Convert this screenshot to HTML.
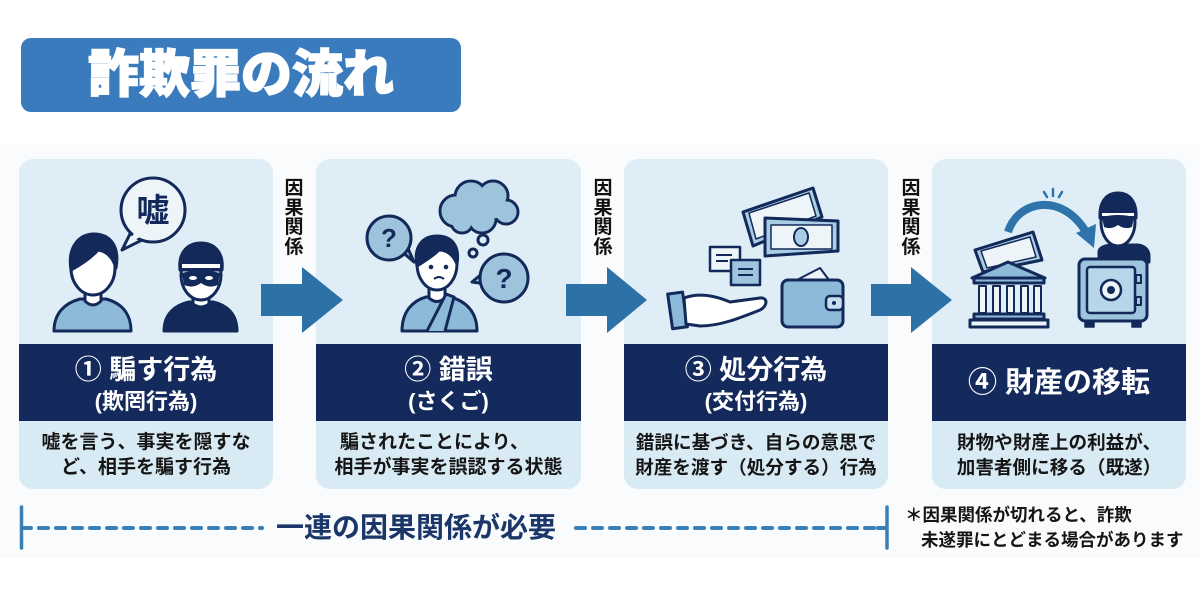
<!DOCTYPE html>
<html lang="ja">
<head>
<meta charset="utf-8">
<style>
  html, body { margin:0; padding:0; }
  body { width:1200px; height:600px; position:relative; overflow:hidden; background:#ffffff;
         font-family:"Liberation Sans","Noto Sans CJK JP",sans-serif; font-weight:700; }
  .abs { position:absolute; }
  .band { left:0; top:145px; width:1200px; height:413px; background:#fafbfc; }
  .title { left:21px; top:38px; width:440px; height:74px; background:#3a7bbd; border-radius:10px;
           color:#fff; font-size:51px; font-weight:900; line-height:74px; text-align:center;
           -webkit-text-stroke:1.5px #fff; letter-spacing:0px; }
  .card { top:159px; height:330px; border-radius:14px; overflow:hidden; background:#dfeef6; }
  .card .dark { position:absolute; left:0; top:185px; width:100%; height:77px; background:#142a5c; }
  .card .desc { position:absolute; left:0; top:262px; width:100%; height:68px; background:#d8eaf4; }
  .t { position:absolute; text-align:center; white-space:nowrap; }
  .h1 { color:#fff; font-size:27px; line-height:32px; height:32px; }
  .h2 { color:#fff; font-size:22px; line-height:28px; height:28px; }
  .d { color:#151515; font-size:19px; line-height:25px; height:25px; }
  .vt { position:absolute; width:22px; font-size:19px; line-height:19.6px; color:#111; text-align:center; }
</style>
</head>
<body>
<div class="abs band"></div>
<div class="abs title">詐欺罪の流れ</div>

<div class="abs card" style="left:19px;width:254px;"><div class="dark"></div><div class="desc"></div></div>
<div class="abs card" style="left:316px;width:265px;"><div class="dark"></div><div class="desc"></div></div>
<div class="abs card" style="left:624px;width:264px;"><div class="dark"></div><div class="desc"></div></div>
<div class="abs card" style="left:932px;width:254px;"><div class="dark"></div><div class="desc"></div></div>

<svg class="abs" style="left:0;top:0" width="1200" height="600" viewBox="0 0 1200 600">
  <!-- arrows -->
  <g fill="#2c72a6">
    <polygon points="261,284 302,284 302,267 343,300 302,333 302,316 261,316"/>
    <polygon points="566,284 607,284 607,267 647,300 607,333 607,316 566,316"/>
    <polygon points="871,284 911,284 911,267 952,300 911,333 911,316 871,316"/>
  </g>

  <!-- ===== Card 1 ===== -->
  <g stroke="#13295a" stroke-width="3" stroke-linejoin="round">
    <!-- speech bubble -->
    <polygon points="133,228 122,250 146,238" fill="#eef5f9"/>
    <circle cx="153" cy="210" r="32" fill="#eef5f9"/>
    <polygon points="135,232 127,244 142,236" fill="#eef5f9" stroke="none"/>
    <!-- person 1 -->
    <path d="M54,331 C54,313 65,303 80,299 L106,299 C121,303 131,313 131,331 Z" fill="#8dbad8"/>
    <path d="M85,287 L85,301 Q93,309 101,301 L101,287" fill="#fff"/>
    <ellipse cx="93" cy="268" rx="22" ry="27" fill="#fff"/>
    <path d="M71,270 C67,246 80,234 94,234 C110,234 120,246 116,268 C113,257 106,251 98,250 C91,258 82,264 71,270 Z" fill="#13295a"/>
    <!-- thief -->
    <path d="M164,331 C164,314 175,305 189,302 L213,302 C227,305 237,314 237,331 Z" fill="#13295a"/>
    <path d="M193,292 L193,304 Q201,310 209,304 L209,292" fill="#fff"/>
    <ellipse cx="201" cy="275" rx="20" ry="25" fill="#fff"/>
    <path d="M180,270 C178,252 188,243 201,243 C214,243 224,252 222,270 Z" fill="#13295a"/>
  </g>
  <rect x="182" y="264" width="38" height="4" fill="#fff"/>
  <path d="M182,273 Q201,268 220,273 L218,285 Q209,289 201,283 Q193,289 184,285 Z" fill="#13295a"/>
  <ellipse cx="193" cy="278" rx="4" ry="2" fill="#fff"/>
  <ellipse cx="209" cy="278" rx="4" ry="2" fill="#fff"/>
  <text x="153" y="222" font-size="33" font-weight="700" fill="#13295a" text-anchor="middle" font-family="Liberation Sans, Noto Sans CJK JP, sans-serif">嘘</text>

  <!-- ===== Card 2 ===== -->
  <g stroke="#13295a" stroke-width="3" stroke-linejoin="round">
    <!-- cloud outline -->
    <g fill="#9dc4dc">
      <circle cx="456" cy="211" r="16"/><circle cx="471" cy="197" r="16"/><circle cx="493" cy="196" r="15"/>
      <circle cx="506" cy="212" r="12"/><circle cx="482" cy="219" r="14"/><circle cx="462" cy="222" r="11"/>
    </g>
  </g>
  <g fill="#9dc4dc">
    <circle cx="456" cy="211" r="14.5"/><circle cx="471" cy="197" r="14.5"/><circle cx="493" cy="196" r="13.5"/>
    <circle cx="506" cy="212" r="10.5"/><circle cx="482" cy="219" r="12.5"/><circle cx="462" cy="222" r="9.5"/>
    <rect x="458" y="200" width="42" height="18"/>
  </g>
  <g stroke="#13295a" stroke-width="3" stroke-linejoin="round">
    <circle cx="483" cy="240" r="5" fill="#dfeef6"/>
    <circle cx="473" cy="253" r="4" fill="#dfeef6"/>
    <!-- question bubbles -->
    <polygon points="400,250 414,262 406,244" fill="#9dc4dc"/>
    <circle cx="389" cy="238" r="22" fill="#9dc4dc"/>
    <polygon points="484,272 472,282 486,284" fill="#9dc4dc"/>
    <circle cx="504" cy="278" r="24" fill="#9dc4dc"/>
    <!-- person -->
    <path d="M402,331 C402,312 412,301 426,297 L450,297 C466,301 477,312 477,331 Z" fill="#8dbad8"/>
    <path d="M429,285 L429,298 Q437,305 445,298 L445,285" fill="#fff"/>
    <ellipse cx="437" cy="264" rx="20" ry="26" fill="#fff"/>
    <path d="M417,266 C413,245 424,236 437,236 C452,236 460,246 457,264 C453,254 446,250 439,250 C433,256 425,261 417,266 Z" fill="#13295a"/>
    <path d="M427,331 L446,294 L454,297 L445,331" fill="#8dbad8"/>
  </g>
  <circle cx="431" cy="267" r="2.3" fill="#13295a"/>
  <circle cx="446" cy="267" r="2.3" fill="#13295a"/>
  <path d="M434,279 Q439,275 444,279" stroke="#13295a" stroke-width="2" fill="none"/>
  <text x="389" y="247" font-size="26" fill="#13295a" text-anchor="middle" font-family="Liberation Sans, sans-serif" font-weight="700">?</text>
  <text x="504" y="288" font-size="28" fill="#13295a" text-anchor="middle" font-family="Liberation Sans, sans-serif" font-weight="700">?</text>

  <!-- ===== Card 3 ===== -->
  <g stroke="#13295a" stroke-width="3" stroke-linejoin="round">
    <!-- back bill -->
    <polygon points="743,212 813,188 822,217 753,246" fill="#a9cde3"/>
    <polygon points="749,213 809,193 816,216 756,239" fill="#eef5f9" stroke-width="1.5"/>
    <!-- front bill -->
    <polygon points="765,218 838,221 838,251 765,256" fill="#a9cde3"/>
    <rect x="771" y="225" width="61" height="24" fill="#eef5f9" stroke-width="1.5"/>
    <ellipse cx="801" cy="237" rx="7" ry="9" fill="#a9cde3" stroke-width="2"/>
    <!-- docs -->
    <rect x="710" y="247" width="30" height="24" fill="#eef5f9" stroke-width="2.5"/>
    <rect x="731" y="260" width="29" height="25" fill="#9dc4dc" stroke-width="2.5"/>
    <!-- wallet -->
    <polygon points="793,282 820,268 832,284" fill="#eef5f9" stroke-width="2"/>
    <rect x="782" y="280" width="61" height="47" rx="6" fill="#8dbad8"/>
    <rect x="826" y="296" width="17" height="14" rx="4" fill="#c5dfee" stroke-width="2.5"/>
    <!-- hand -->
    <rect x="670" y="293" width="15" height="35" fill="#8dbad8" transform="rotate(-8 677 310)"/>
    <path d="M684,298 C700,292 716,296 730,302 L760,298 C768,297 768,306 760,310 C740,318 720,326 700,326 L686,324 Z" fill="#fff"/>
  </g>
  <g stroke="#13295a" stroke-width="2">
    <line x1="716" y1="255" x2="732" y2="255"/><line x1="716" y1="261" x2="728" y2="261"/>
    <line x1="738" y1="269" x2="753" y2="269"/><line x1="738" y1="275" x2="753" y2="275"/>
  </g>
  <circle cx="834" cy="303" r="2" fill="#13295a"/>

  <!-- ===== Card 4 ===== -->
  <!-- curved arrow -->
  <path d="M1008,232 C1018,200 1062,192 1086,232" stroke="#2e74aa" stroke-width="8" fill="none"/>
  <polygon points="1076,233 1096,224 1094,248" fill="#2e74aa"/>
  <g stroke="#2e74aa" stroke-width="2.5" stroke-linecap="round">
    <line x1="1044" y1="192" x2="1047" y2="197"/><line x1="1053" y1="189" x2="1053" y2="196"/><line x1="1062" y1="192" x2="1059" y2="197"/>
  </g>
  <g stroke="#13295a" stroke-width="3" stroke-linejoin="round">
    <!-- bill on bank -->
    <polygon points="975,250 1033,232 1042,260 983,272" fill="#a9cde3"/>
    <polygon points="981,251 1030,237 1036,257 987,268" fill="#eef5f9" stroke-width="1.5"/>
    <!-- bank -->
    <polygon points="972,278 1008,262 1045,278" fill="#8dbad8"/>
    <rect x="974" y="278" width="70" height="5" fill="#8dbad8"/>
    <rect x="979" y="286" width="7" height="27" fill="#eef5f9" stroke-width="2"/>
    <rect x="993" y="286" width="7" height="27" fill="#eef5f9" stroke-width="2"/>
    <rect x="1007" y="286" width="7" height="27" fill="#eef5f9" stroke-width="2"/>
    <rect x="1021" y="286" width="7" height="27" fill="#eef5f9" stroke-width="2"/>
    <rect x="1034" y="286" width="7" height="27" fill="#eef5f9" stroke-width="2"/>
    <rect x="974" y="314" width="70" height="5" fill="#8dbad8"/>
    <rect x="970" y="320" width="78" height="7" fill="#eef5f9"/>
    <!-- thief -->
    <path d="M1099,262 L1099,252 C1099,248 1104,246 1110,245 L1138,245 C1145,246 1149,250 1149,256 L1149,262 Z" fill="#13295a"/>
    <ellipse cx="1118" cy="222" rx="17" ry="24" fill="#fff"/>
    <path d="M1100,218 C1099,201 1107,193 1118,193 C1129,193 1137,201 1136,218 Z" fill="#13295a"/>
    <!-- safe -->
    <rect x="1079" y="259" width="68" height="62" rx="6" fill="#9dc4dc"/>
    <rect x="1087" y="267" width="48" height="46" rx="3" fill="#b7d6e9" stroke-width="2.5"/>
    <circle cx="1111" cy="290" r="10" fill="#eef5f9" stroke-width="2.5"/>
    <rect x="1136" y="275" width="5" height="8" fill="#9dc4dc" stroke-width="2"/>
    <rect x="1136" y="297" width="5" height="8" fill="#9dc4dc" stroke-width="2"/>
    <rect x="1085" y="321" width="9" height="6" fill="#13295a" stroke-width="1.5"/>
    <rect x="1132" y="321" width="9" height="6" fill="#13295a" stroke-width="1.5"/>
  </g>
  <rect x="1102" y="213" width="32" height="3" fill="#fff"/>
  <path d="M1102,217 Q1118,213 1134,217 L1132,227 Q1125,230 1118,225 Q1111,230 1104,227 Z" fill="#13295a"/>
  <circle cx="1111" cy="290" r="4" fill="#13295a"/>

  <!-- bottom dashed lines -->
  <g stroke="#3a80b4" stroke-linecap="round">
    <line x1="21.5" y1="507" x2="21.5" y2="548" stroke-width="3.5"/>
    <line x1="22" y1="528" x2="31" y2="528" stroke-width="4"/>
    <line x1="39" y1="528" x2="262" y2="528" stroke-width="4" stroke-dasharray="9 8"/>
    <line x1="576" y1="528" x2="880" y2="528" stroke-width="4" stroke-dasharray="9 8"/>
    <line x1="878" y1="528" x2="886" y2="528" stroke-width="4"/>
    <line x1="887" y1="507" x2="887" y2="548" stroke-width="3.5"/>
  </g>
</svg>

<!-- vertical labels -->
<div class="vt" style="left:283px;top:179px;">因<br>果<br>関<br>係</div>
<div class="vt" style="left:592px;top:179px;">因<br>果<br>関<br>係</div>
<div class="vt" style="left:900px;top:179px;">因<br>果<br>関<br>係</div>

<!-- card 1 text -->
<div class="t h1" style="left:19px;width:254px;top:354px;">① 騙す行為</div>
<div class="t h2" style="left:19px;width:254px;top:388px;">(欺罔行為)</div>
<div class="t d" style="left:19px;width:254px;top:430px;">嘘を言う、事実を隠すな</div>
<div class="t d" style="left:19px;width:254px;top:455px;">ど、相手を騙す行為</div>

<!-- card 2 text -->
<div class="t h1" style="left:316px;width:265px;top:354px;">② 錯誤</div>
<div class="t h2" style="left:316px;width:265px;top:388px;">(さくご)</div>
<div class="t d" style="left:340px;top:430px;">騙されたことにより、</div>
<div class="t d" style="left:316px;width:265px;top:455px;">相手が事実を誤認する状態</div>

<!-- card 3 text -->
<div class="t h1" style="left:624px;width:264px;top:354px;">③ 処分行為</div>
<div class="t h2" style="left:624px;width:264px;top:388px;">(交付行為)</div>
<div class="t d" style="left:624px;width:264px;top:430px;font-size:18.6px;">錯誤に基づき、自らの意思で</div>
<div class="t d" style="left:624px;width:264px;top:455px;font-size:18.6px;">財産を渡す（処分する）行為</div>

<!-- card 4 text -->
<div class="t h1" style="left:932px;width:254px;top:367px;font-size:29px;">④ 財産の移転</div>
<div class="t d" style="left:932px;width:254px;top:430px;font-size:18.6px;">財物や財産上の利益が、</div>
<div class="t d" style="left:932px;width:254px;top:455px;font-size:18.6px;">加害者側に移る（既遂）</div>

<!-- bottom -->
<div class="t" style="left:276px;top:510px;font-size:28px;line-height:36px;color:#1b3769;">一連の因果関係が必要</div>
<div class="t" style="left:905px;top:504px;font-size:17.5px;line-height:22px;color:#151515;">＊因果関係が切れると、詐欺</div>
<div class="t" style="left:921px;top:529px;font-size:17.5px;line-height:22px;color:#151515;">未遂罪にとどまる場合があります</div>
</body>
</html>
